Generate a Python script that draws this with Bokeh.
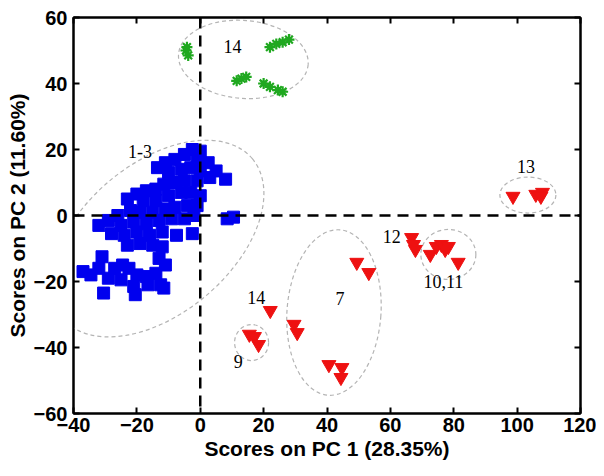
from bokeh.plotting import figure
from bokeh.models import Span, Range1d, LinearAxis, FixedTicker, ColumnDataSource
from bokeh.core.properties import value
from bokeh.embed import file_html
from bokeh.resources import INLINE

# ---- data ----
blue_x = [-2.5, 0, -5, -1, 2.5, -8, -11, -13.5, -10, -6, -3, 0, 5, 8, 3, -1, -5, -8, -11.5, -14,
          -17, -20, -23, -18, -14, -10, -6, -3, 0, -1, -4, -8, -11, -15, -19, -22, -26, -29, -32, -25,
          -21, -17, -13, -9, -5, -2, 8.5, 10.5, -28, -24, -20, -16, -12, -7.5, -2.5, -23, -19, -15, -12,
          -13, -11, -31, -37, -34.5, -32, -27, -24.5, -22.5, -29, -25, -20, -17, -14, -12.5, -21, -20.5,
          -30.5, -11.5, -16.5]
blue_y = [20, 19.5, 18.5, 17, 16, 17, 16, 14.5, 13, 14, 14.5, 13.5, 13.5, 11, 11.5, 10.5, 10.5, 10, 9.5, 8,
          7.5, 6.5, 5, 4.5, 4.5, 6, 7, 7, 6, 3, 3, 2.5, 2, 1, 1, 1.5, 0, -1.5, -3, -3,
          -2, -2.5, -1.5, -1, -1, 0, -1, -0.5, -5.5, -6, -5, -6, -5, -6, -5.5, -9, -8.5, -9, -9.5,
          -13, -15, -12.5, -17, -18, -16, -16, -15, -16, -19, -19.5, -18, -18.5, -17.5, -21, -21.5, -24,
          -23.5, -22, -21]

green_x = [-4.5, -3.8, -4.2, 11.5, 13, 14.5, 22, 24, 26, 28, 20, 22, 24.5, 26]
green_y = [50, 48.5, 51, 40.8, 41.5, 42, 51, 52, 52.5, 53.3, 40, 39, 38, 37.5]

red_x = [98.7, 105.9, 108, 107.5, 66.7, 67.3, 67.9, 72.6, 74.5, 76.1, 78.3, 77.3, 81.4,
         49.4, 53.2, 29.6, 30.6, 40.6, 44.7, 44.4, 22.1, 15.5, 17.1, 18.4]
red_y = [5.8, 6.4, 7, 5.8, -6.7, -8.8, -10.3, -11.8, -9.4, -8.8, -9.4, -10.3, -14.2,
         -14.2, -17.3, -33, -35.5, -45.2, -46.1, -49.1, -28.8, -36, -36.7, -39.1]

group_labels = ["1-3", "14", "13", "12", "10,11", "7", "14", "9"]
label_x = [-19, 10.2, 102.8, 60.4, 76.7, 44.1, 17.7, 12]
label_y = [19.4, 51.2, 14.8, -6.4, -20, -25.2, -24.8, -44.2]

x_ticks = [-40, -20, 0, 20, 40, 60, 80, 100, 120]
y_ticks = [-60, -40, -20, 0, 20, 40, 60]

# group envelopes (center in data units, size in screen px)
env_x = [-13.5, 13.6, 42.2, 16.2, 78.3, 103.4]
env_y = [-7.0, 47.3, -29.4, -38.5, -11.8, 6.2]
env_w = [248, 130, 94, 34, 55, 56]
env_h = [150, 78, 166, 36, 50, 36]
env_a = [0.70, -0.08, -0.07, 0.0, 0.0, 0.0]

p = figure(width=596, height=468, output_backend="svg", toolbar_location=None,
           x_range=Range1d(-40, 120), y_range=Range1d(-60, 60),
           min_border_left=73, min_border_right=16, min_border_top=17, min_border_bottom=55)
p.background_fill_color = "white"
p.border_fill_color = "white"
p.xgrid.visible = False
p.ygrid.visible = False
p.outline_line_color = "black"
p.outline_line_width = 2

p.ellipse(x=env_x, y=env_y, width=env_w, height=env_h, angle=env_a,
          width_units="screen", height_units="screen",
          fill_color=None, line_color="#b4b4b4", line_width=1.2, line_dash="4 3")

p.scatter(blue_x, blue_y, marker="square", size=12, fill_color="#0000ee", line_color="#0000ee")
p.scatter(green_x, green_y, marker="asterisk", size=11, line_color="#1fa81f", line_width=2.2)
p.scatter(red_x, red_y, marker="inverted_triangle", size=14, fill_color="#ee1111", line_color="#ee1111")

src = ColumnDataSource(dict(x=label_x, y=label_y, t=group_labels))
p.text(x="x", y="y", text="t", source=src, text_font=value("Liberation Serif"),
       text_font_size="18px", text_align="center", text_baseline="middle", text_color="black")

p.add_layout(Span(location=0, dimension="height", line_color="black", line_width=2.5, line_dash="11 7"))
p.add_layout(Span(location=0, dimension="width", line_color="black", line_width=2.5, line_dash="11 7"))

for ax, ticks in ((p.xaxis[0], x_ticks), (p.yaxis[0], y_ticks)):
    ax.ticker = FixedTicker(ticks=ticks)
    ax.major_tick_in = 6
    ax.major_tick_out = 0
    ax.minor_tick_line_color = None
    ax.axis_line_width = 2
    ax.major_tick_line_width = 2
    ax.major_label_text_font = "Liberation Sans"
    ax.major_label_text_font_style = "bold"
    ax.major_label_text_font_size = "20px"
    ax.major_label_text_color = "black"
    ax.axis_label_text_font = "Liberation Sans"
    ax.axis_label_text_font_style = "bold"
    ax.axis_label_text_font_size = "21px"
    ax.axis_label_text_color = "black"

p.xaxis[0].axis_label = "Scores on PC 1 (28.35%)"
p.yaxis[0].axis_label = "Scores on PC 2 (11.60%)"
p.xaxis[0].major_label_standoff = 4
p.xaxis[0].axis_label_standoff = 2
p.yaxis[0].major_label_standoff = 6
p.yaxis[0].axis_label_standoff = 2

top = LinearAxis(ticker=FixedTicker(ticks=x_ticks), major_label_overrides={t: "" for t in x_ticks},
                 major_label_standoff=0, major_tick_in=6, major_tick_out=0,
                 minor_tick_line_color=None, axis_line_width=2, major_tick_line_width=2)
right = LinearAxis(ticker=FixedTicker(ticks=y_ticks), major_label_overrides={t: "" for t in y_ticks},
                   major_label_standoff=0, major_tick_in=6, major_tick_out=0,
                   minor_tick_line_color=None, axis_line_width=2, major_tick_line_width=2)
p.add_layout(top, "above")
p.add_layout(right, "right")

open("out.html", "w").write(file_html(p, INLINE))
